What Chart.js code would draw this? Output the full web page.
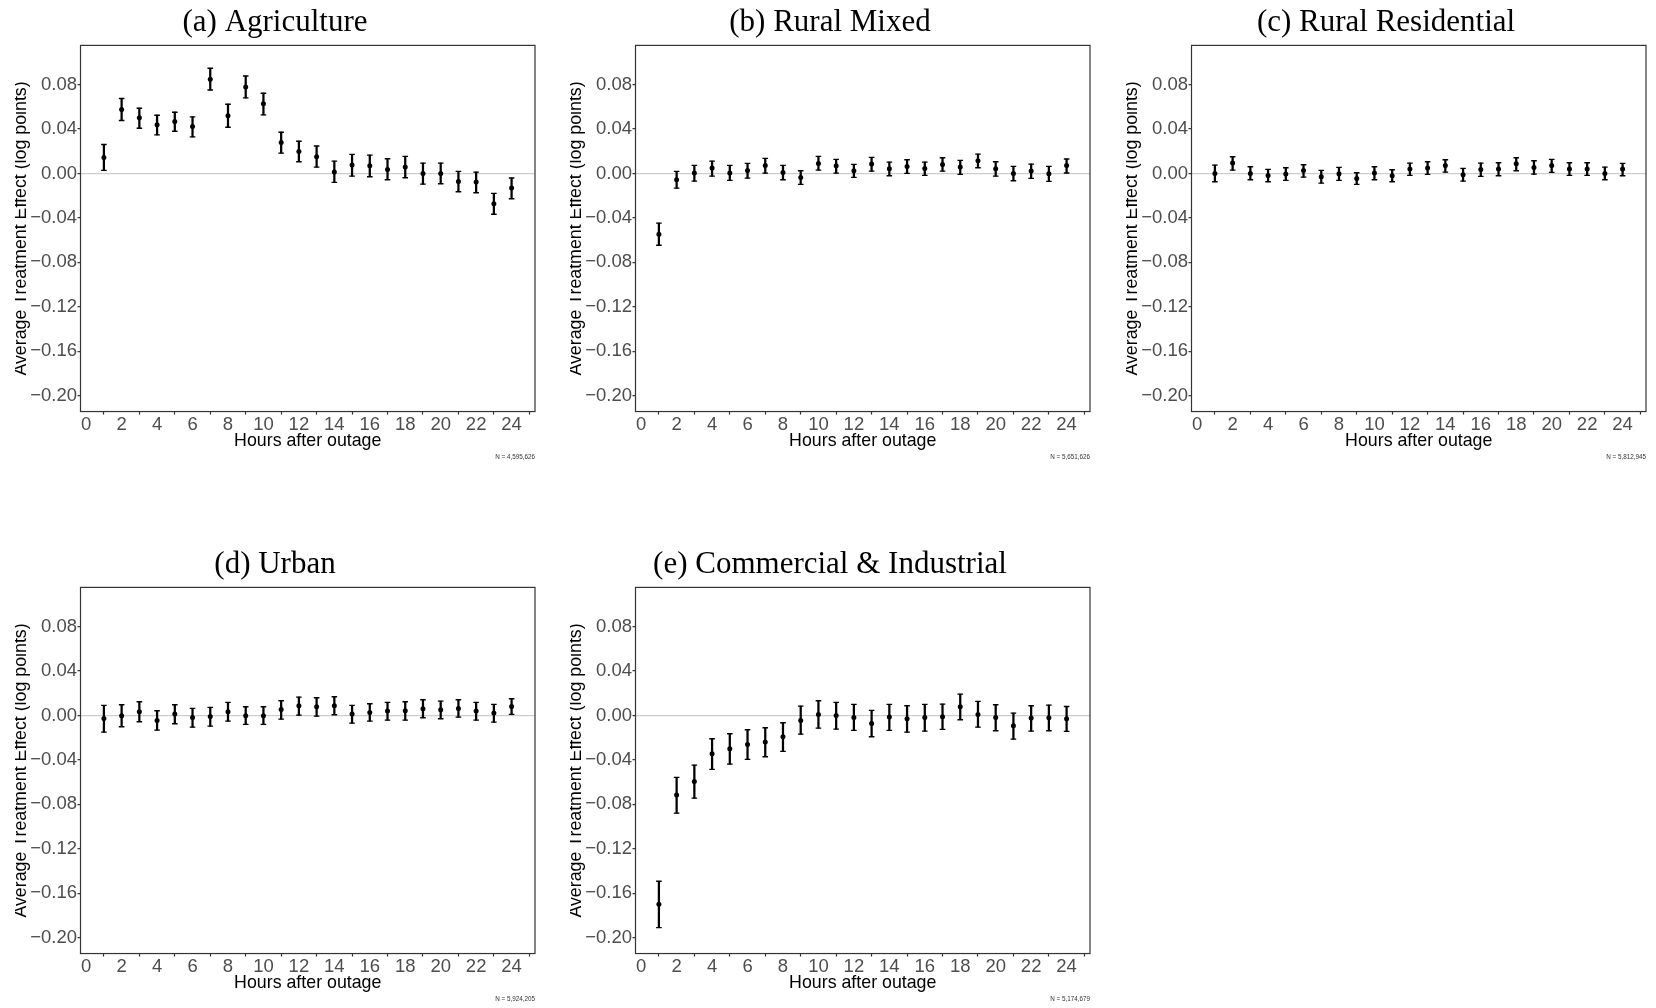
<!DOCTYPE html>
<html>
<head>
<meta charset="utf-8">
<script src="https://cdn.jsdelivr.net/npm/chart.js@4.4.1/dist/chart.umd.min.js"></script>
<style>
  body { margin: 0; background: #fff; width: 1656px; height: 1008px; position: relative; overflow: hidden; }
  canvas { position: absolute; }
</style>
</head>
<body>
<canvas id="agri" width="522" height="463" style="left:15px;top:0px"></canvas>
<canvas id="rmix" width="522" height="463" style="left:570px;top:0px"></canvas>
<canvas id="rres" width="522" height="463" style="left:1126px;top:0px"></canvas>
<canvas id="urban" width="522" height="463" style="left:15px;top:542px"></canvas>
<canvas id="comind" width="522" height="463" style="left:570px;top:542px"></canvas>
<script>
// hours after outage
const hours = [1, 2, 3, 4, 5, 6, 7, 8, 9, 10, 11, 12, 13, 14, 15, 16, 17, 18, 19, 20, 21, 22, 23, 24];
const xTicks = [0, 2, 4, 6, 8, 10, 12, 14, 16, 18, 20, 22, 24];
const yTicks = [-0.20, -0.16, -0.12, -0.08, -0.04, 0.00, 0.04, 0.08];

// (a) agriculture
const agriEst = [0.0144, 0.0575, 0.0500, 0.0437, 0.0467, 0.0422, 0.0847, 0.0518, 0.0778, 0.0626, 0.0278, 0.0198, 0.0150, 0.0012, 0.0075, 0.0069, 0.0036, 0.0057, 0.0000, 0.0000, -0.0072, -0.0078, -0.0272, -0.0132];
const agriHi = [0.0260, 0.0674, 0.0587, 0.0524, 0.0551, 0.0509, 0.0946, 0.0623, 0.0877, 0.0722, 0.0371, 0.0290, 0.0246, 0.0111, 0.0171, 0.0165, 0.0132, 0.0153, 0.0093, 0.0093, 0.0018, 0.0012, -0.0180, -0.0041];
const agriLo = [0.0027, 0.0476, 0.0407, 0.0347, 0.0380, 0.0329, 0.0751, 0.0416, 0.0680, 0.0527, 0.0183, 0.0105, 0.0057, -0.0081, -0.0024, -0.0030, -0.0057, -0.0039, -0.0096, -0.0093, -0.0165, -0.0174, -0.0368, -0.0228];

// (b) rural mixed
const rmixEst = [-0.0547, -0.0057, 0.0003, 0.0048, 0.0003, 0.0027, 0.0072, 0.0009, -0.0036, 0.0090, 0.0069, 0.0024, 0.0084, 0.0042, 0.0063, 0.0045, 0.0081, 0.0057, 0.0114, 0.0042, 0.0000, 0.0021, -0.0003, 0.0072];
const rmixHi = [-0.0447, 0.0018, 0.0072, 0.0111, 0.0072, 0.0090, 0.0135, 0.0072, 0.0024, 0.0153, 0.0126, 0.0081, 0.0144, 0.0102, 0.0123, 0.0102, 0.0141, 0.0117, 0.0174, 0.0105, 0.0063, 0.0084, 0.0063, 0.0130];
const rmixLo = [-0.0646, -0.0132, -0.0069, -0.0024, -0.0063, -0.0042, 0.0003, -0.0057, -0.0099, 0.0030, 0.0003, -0.0036, 0.0021, -0.0021, 0.0000, -0.0018, 0.0021, -0.0009, 0.0051, -0.0024, -0.0066, -0.0045, -0.0072, 0.0004];

// (c) rural residential
const rresEst = [0.0000, 0.0093, 0.0000, -0.0018, -0.0006, 0.0027, -0.0030, -0.0003, -0.0045, 0.0003, -0.0021, 0.0039, 0.0048, 0.0072, -0.0012, 0.0036, 0.0039, 0.0087, 0.0054, 0.0072, 0.0039, 0.0039, 0.0000, 0.0040];
const rresHi = [0.0075, 0.0150, 0.0060, 0.0036, 0.0051, 0.0078, 0.0027, 0.0054, 0.0006, 0.0060, 0.0033, 0.0093, 0.0105, 0.0123, 0.0045, 0.0093, 0.0096, 0.0141, 0.0114, 0.0126, 0.0096, 0.0096, 0.0057, 0.0090];
const rresLo = [-0.0075, 0.0030, -0.0057, -0.0075, -0.0063, -0.0033, -0.0087, -0.0063, -0.0099, -0.0057, -0.0075, -0.0018, -0.0009, 0.0012, -0.0069, -0.0027, -0.0021, 0.0024, -0.0006, 0.0009, -0.0018, -0.0018, -0.0057, -0.0021];

// (d) urban
const urbanEst = [-0.0027, -0.0003, 0.0033, -0.0045, 0.0012, -0.0018, -0.0009, 0.0033, -0.0003, -0.0003, 0.0054, 0.0087, 0.0078, 0.0087, 0.0012, 0.0027, 0.0039, 0.0042, 0.0060, 0.0051, 0.0063, 0.0039, 0.0021, 0.0081];
const urbanHi = [0.0090, 0.0096, 0.0123, 0.0042, 0.0096, 0.0063, 0.0072, 0.0117, 0.0078, 0.0078, 0.0132, 0.0165, 0.0159, 0.0168, 0.0090, 0.0105, 0.0117, 0.0123, 0.0141, 0.0129, 0.0141, 0.0117, 0.0099, 0.0150];
const urbanLo = [-0.0150, -0.0102, -0.0057, -0.0132, -0.0075, -0.0105, -0.0096, -0.0051, -0.0081, -0.0081, -0.0033, 0.0003, -0.0006, 0.0006, -0.0069, -0.0051, -0.0042, -0.0042, -0.0021, -0.0030, -0.0015, -0.0042, -0.0060, 0.0009];

// (e) commercial & industrial
const comindEst = [-0.1700, -0.0717, -0.0594, -0.0345, -0.0300, -0.0261, -0.0240, -0.0192, -0.0045, 0.0009, 0.0000, -0.0018, -0.0072, -0.0015, -0.0030, -0.0018, -0.0012, 0.0078, 0.0009, -0.0018, -0.0093, -0.0024, -0.0021, -0.0030];
const comindHi = [-0.1493, -0.0558, -0.0447, -0.0210, -0.0165, -0.0129, -0.0111, -0.0066, 0.0084, 0.0132, 0.0117, 0.0099, 0.0045, 0.0099, 0.0087, 0.0099, 0.0102, 0.0192, 0.0126, 0.0096, 0.0021, 0.0087, 0.0093, 0.0080];
const comindLo = [-0.1910, -0.0879, -0.0744, -0.0486, -0.0438, -0.0396, -0.0372, -0.0324, -0.0168, -0.0114, -0.0123, -0.0135, -0.0192, -0.0135, -0.0150, -0.0141, -0.0126, -0.0039, -0.0105, -0.0138, -0.0213, -0.0141, -0.0138, -0.0144];

const sans = "'Liberation Sans', Arial, sans-serif";

// box around the plotting area
const framePlugin = {
    id: 'frame',
    afterDraw(chart) {
        const a = chart.chartArea;
        const ctx = chart.ctx;
        ctx.save();
        ctx.strokeStyle = '#333333';
        ctx.lineWidth = 1.2;
        ctx.strokeRect(a.left, a.top, a.right - a.left, a.bottom - a.top);
        ctx.restore();
    }
};

function minusLabel(v) {
    return (v < -1e-9 ? '\u2212' : '') + Math.abs(v).toFixed(2);
}

function effectChart(id, title, nLabel, est = [], lo = [], hi = []) {
    const points = hours.map((h, i) => ({x: h, y: est[i]}));
    const whiskers = hours.map((h, i) => ({x: h, y: [lo[i], hi[i]]}));
    const capsHi = hours.map((h, i) => ({x: h, y: hi[i]}));
    const capsLo = hours.map((h, i) => ({x: h, y: lo[i]}));

    const data = {
        datasets: [
            {data: points, pointRadius: 2.5, pointBackgroundColor: '#000', pointBorderWidth: 0},
            {type: 'bar', data: whiskers, backgroundColor: '#000', barThickness: 1.6, grouped: false, borderWidth: 0},
            {data: capsHi, pointStyle: 'line', pointRadius: 2.8, pointBorderColor: '#000', pointBorderWidth: 1.4},
            {data: capsLo, pointStyle: 'line', pointRadius: 2.8, pointBorderColor: '#000', pointBorderWidth: 1.4}
        ]
    };

    const config = {
        type: 'scatter',
        data: data,
        plugins: [framePlugin],
        options: {
            responsive: false,
            animation: false,
            devicePixelRatio: 1,
            layout: {autoPadding: false, padding: {left: 0, right: 2, top: 0, bottom: 0}},
            plugins: {
                legend: {display: false},
                tooltip: {enabled: false},
                title: {
                    display: true,
                    text: title,
                    color: '#000',
                    font: {family: "'Liberation Serif', 'Times New Roman', serif", size: 31, weight: 'normal'},
                    padding: {top: 4.4, bottom: 3.8}
                },
                subtitle: {
                    display: true,
                    position: 'bottom',
                    align: 'end',
                    text: nLabel,
                    color: '#333',
                    font: {family: sans, size: 6.3},
                    padding: {top: 2.0, bottom: 1.9}
                }
            },
            scales: {
                x: {
                    type: 'linear',
                    min: -0.32,
                    max: 25.32,
                    offset: false,
                    afterBuildTicks: s => { s.ticks = xTicks.map(v => ({value: v})); },
                    afterFit: s => { s.height = 40; },
                    grid: {drawOnChartArea: false, tickLength: 3, tickWidth: 1.2, tickColor: '#333'},
                    border: {display: false},
                    ticks: {autoSkip: false, maxRotation: 0, padding: -0.5, color: '#4D4D4D', font: {family: sans, size: 18.5}},
                    title: {display: true, text: 'Hours after outage', color: '#000', font: {family: sans, size: 17.8}, padding: {top: 0, bottom: 0.2}}
                },
                y: {
                    type: 'linear',
                    min: -0.2143,
                    max: 0.1152,
                    afterBuildTicks: s => { s.ticks = yTicks.map(v => ({value: v})); },
                    afterFit: s => { s.width = 65.5; },
                    grid: {
                        color: c => (c.tick && Math.abs(c.tick.value) < 1e-9) ? '#CDCDCD' : 'rgba(0,0,0,0)',
                        lineWidth: 1.3,
                        tickLength: 3,
                        tickWidth: 1.2,
                        tickColor: '#333'
                    },
                    border: {display: false},
                    ticks: {padding: 0.5, color: '#4D4D4D', font: {family: sans, size: 18.5}, callback: v => minusLabel(v)},
                    title: {display: true, text: 'Average Treatment Effect (log points)', color: '#000', font: {family: sans, size: 17.8, lineHeight: 1.2}, padding: {top: -4.2, bottom: 0}}
                }
            }
        }
    };

    const ctx = document.getElementById(id).getContext('2d');
    new Chart(ctx, config);
}

effectChart('agri', '(a) Agriculture', 'N = 4,595,626', agriEst, agriLo, agriHi);
effectChart('rmix', '(b) Rural Mixed', 'N = 5,651,626', rmixEst, rmixLo, rmixHi);
effectChart('rres', '(c) Rural Residential', 'N = 5,812,945', rresEst, rresLo, rresHi);
effectChart('urban', '(d) Urban', 'N = 5,924,205', urbanEst, urbanLo, urbanHi);
effectChart('comind', '(e) Commercial & Industrial', 'N = 5,174,679', comindEst, comindLo, comindHi);
</script>
</body>
</html>
